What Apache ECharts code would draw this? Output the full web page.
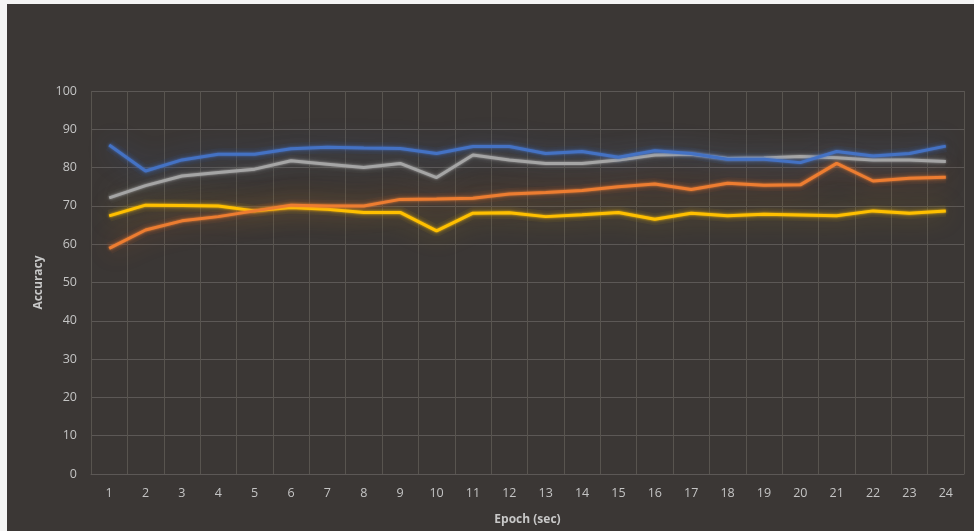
<!DOCTYPE html>
<html>
<head>
<meta charset="utf-8">
<script src="https://cdn.jsdelivr.net/npm/echarts@6/dist/echarts.min.js"></script>
<style>
  html, body { margin: 0; padding: 0; background: #f4f4f4; }
  #chart { position: absolute; left: 7px; top: 4px; width: 967px; height: 527px; background: #3b3735; }
</style>
</head>
<body>
<div id="chart"></div>
<script>
const epochs = ['1','2','3','4','5','6','7','8','9','10','11','12','13','14','15','16','17','18','19','20','21','22','23','24'];
const yTicks = [0, 10, 20, 30, 40, 50, 60, 70, 80, 90, 100];

const blueSeries   = [85.9, 79.1, 82.0, 83.5, 83.5, 84.9, 85.3, 85.1, 85.0, 83.7, 85.5, 85.5, 83.7, 84.2, 82.7, 84.4, 83.7, 82.2, 82.2, 81.3, 84.2, 83.0, 83.7, 85.6];
const graySeries   = [72.1, 75.3, 77.8, 78.7, 79.6, 81.8, 80.9, 80.0, 81.1, 77.4, 83.3, 82.0, 81.1, 81.1, 82.0, 83.3, 83.5, 82.4, 82.5, 82.9, 82.6, 82.0, 82.0, 81.6];
const orangeSeries = [58.9, 63.7, 66.1, 67.2, 68.7, 70.2, 70.0, 70.0, 71.7, 71.8, 72.0, 73.1, 73.5, 74.0, 75.0, 75.7, 74.3, 75.9, 75.4, 75.5, 81.1, 76.5, 77.2, 77.5];
const yellowSeries = [67.4, 70.2, 70.1, 70.0, 68.7, 69.6, 69.1, 68.3, 68.3, 63.5, 68.1, 68.2, 67.2, 67.7, 68.3, 66.5, 68.1, 67.4, 67.8, 67.6, 67.4, 68.7, 68.1, 68.7];

// Soft diffuse glow underneath, then the crisp line on top
function glowLine(data, shadow, stroke, z) {
  return {
    type: 'line',
    data: data,
    symbol: 'none',
    silent: true,
    z: z,
    lineStyle: { color: stroke, width: 12, shadowColor: shadow, shadowBlur: 24 }
  };
}
function mainLine(name, data, color, z) {
  return {
    name: name,
    type: 'line',
    data: data,
    symbol: 'none',
    z: z,
    lineStyle: { color: color, width: 3, shadowColor: color, shadowBlur: 3 }
  };
}

const chart = echarts.init(document.getElementById('chart'));
chart.setOption({
  backgroundColor: '#3b3735',
  animation: false,
  grid: { left: 84, top: 87, right: 10, bottom: 57, outerBoundsMode: 'none', containLabel: false },
  xAxis: {
    type: 'category',
    data: epochs,
    boundaryGap: true,
    name: 'Epoch (sec)',
    nameLocation: 'middle',
    nameGap: 40,
    nameTextStyle: { color: '#c8c8c8', fontSize: 12, fontWeight: 'bold', fontFamily: 'Open Sans' },
    axisLine: { show: true, lineStyle: { color: '#5c5856', width: 1 } },
    axisTick: { show: false },
    axisLabel: { color: '#c4c4c4', fontSize: 12.5, fontFamily: 'Open Sans', margin: 13 },
    splitLine: { show: true, interval: 0, lineStyle: { color: '#58544f', width: 1 } }
  },
  yAxis: {
    type: 'value',
    min: yTicks[0],
    max: yTicks[yTicks.length - 1],
    interval: 10,
    name: 'Accuracy',
    nameLocation: 'middle',
    nameGap: 46,
    nameTextStyle: { color: '#c8c8c8', fontSize: 12, fontWeight: 'bold', fontFamily: 'Open Sans' },
    axisLine: { show: false },
    axisTick: { show: false },
    axisLabel: { color: '#c4c4c4', fontSize: 12.5, fontFamily: 'Open Sans', margin: 14 },
    splitLine: { show: true, lineStyle: { color: '#5c5856', width: 1 } }
  },
  series: [
    glowLine(yellowSeries, 'rgba(190,150,20,0.8)', 'rgba(120,100,40,0.22)', 1),
    glowLine(orangeSeries, 'rgba(200,100,40,0.8)', 'rgba(120,75,50,0.22)', 1),
    glowLine(graySeries, 'rgba(120,120,120,0.6)', 'rgba(80,78,76,0.2)', 1),
    glowLine(blueSeries, 'rgba(60,100,180,0.8)', 'rgba(55,75,110,0.22)', 1),
    mainLine('Series 4', yellowSeries, '#ffc000', 2),
    mainLine('Series 2', orangeSeries, '#ed7d31', 3),
    mainLine('Series 3', graySeries, '#a5a5a5', 4),
    mainLine('Series 1', blueSeries, '#4472c4', 5)
  ]
});
</script>
</body>
</html>
